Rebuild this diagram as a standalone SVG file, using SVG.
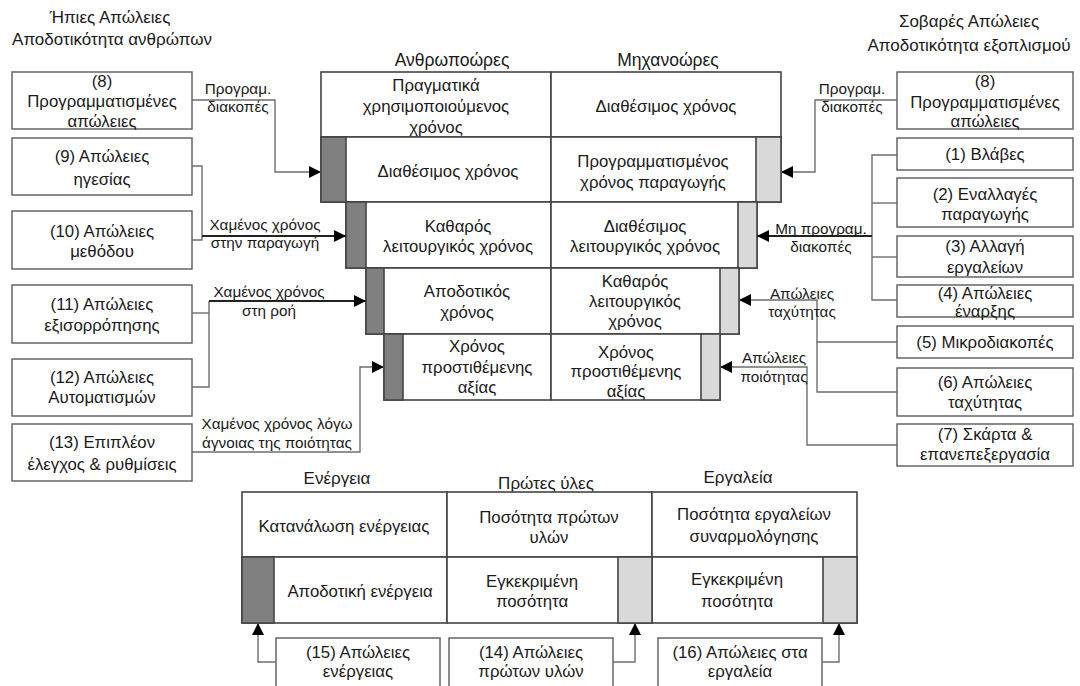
<svg xmlns="http://www.w3.org/2000/svg" width="1080" height="686" viewBox="0 0 1080 686">
<style>
text{font-family:"Liberation Sans",Arial,sans-serif;fill:#1a1a1a;text-anchor:middle}
.t{font-size:16.8px}
.h{font-size:17px}
.hh{font-size:17.5px}
.l{font-size:15.3px}
.box{fill:#fff;stroke:#666;stroke-width:1.5}
.cell{fill:#fff;stroke:#444;stroke-width:1.6}
.dk{fill:#808080;stroke:#444;stroke-width:1.6}
.lt{fill:#d9d9d9;stroke:#444;stroke-width:1.6}
.c{fill:none;stroke:#6e6e6e;stroke-width:1.4}
.cd{fill:none;stroke:#222;stroke-width:2}
</style>
<defs>
<marker id="ar" viewBox="0 0 10 10" refX="10" refY="5" markerWidth="12" markerHeight="12" markerUnits="userSpaceOnUse" orient="auto">
<path d="M0,0 L10,5 L0,10 z" fill="#000"/>
</marker>
</defs>

<g id="titles">
<text class="h" x="110" y="23">Ήπιες Απώλειες</text>
<text class="h" x="112" y="45">Αποδοτικότητα ανθρώπων</text>
<text class="h" x="969" y="27">Σοβαρές Απώλειες</text>
<text class="h" x="969" y="51">Αποδοτικότητα εξοπλισμού</text>
<text class="hh" x="452" y="66">Ανθρωποώρες</text>
<text class="hh" x="668" y="66">Μηχανοώρες</text>
<text class="h" x="337" y="484">Ενέργεια</text>
<text class="h" x="546" y="489">Πρώτες ύλες</text>
<text class="h" x="738" y="483">Εργαλεία</text>
</g>

<g id="main-table">
<rect class="cell" x="321" y="72" width="230" height="65"/>
<rect class="cell" x="551" y="72" width="230" height="65"/>
<rect class="cell" x="321" y="137" width="230" height="65"/>
<rect class="cell" x="551" y="137" width="230" height="65"/>
<rect class="dk" x="321" y="137" width="25" height="65"/>
<rect class="lt" x="756" y="137" width="25" height="65"/>
<rect class="cell" x="346" y="202" width="205" height="66"/>
<rect class="cell" x="551" y="202" width="206" height="66"/>
<rect class="dk" x="346" y="202" width="20" height="66"/>
<rect class="lt" x="738" y="202" width="19" height="66"/>
<rect class="cell" x="366" y="268" width="185" height="66"/>
<rect class="cell" x="551" y="268" width="188" height="66"/>
<rect class="dk" x="366" y="268" width="18" height="66"/>
<rect class="lt" x="720" y="268" width="19" height="66"/>
<rect class="cell" x="384" y="334" width="167" height="66"/>
<rect class="cell" x="551" y="334" width="169" height="66"/>
<rect class="dk" x="384" y="334" width="19" height="66"/>
<rect class="lt" x="701" y="334" width="19" height="66"/>
<text class="t" x="436" y="91">Πραγματικά</text>
<text class="t" x="436" y="112">χρησιμοποιούμενος</text>
<text class="t" x="436" y="133">χρόνος</text>
<text class="t" x="666" y="112">Διαθέσιμος χρόνος</text>
<text class="t" x="448" y="177">Διαθέσιμος χρόνος</text>
<text class="t" x="653" y="167">Προγραμματισμένος</text>
<text class="t" x="653" y="188">χρόνος παραγωγής</text>
<text class="t" x="458" y="232">Καθαρός</text>
<text class="t" x="458" y="252">λειτουργικός χρόνος</text>
<text class="t" x="645" y="232">Διαθέσιμος</text>
<text class="t" x="645" y="252">λειτουργικός χρόνος</text>
<text class="t" x="467" y="297">Αποδοτικός</text>
<text class="t" x="467" y="318">χρόνος</text>
<text class="t" x="635" y="287">Καθαρός</text>
<text class="t" x="635" y="307">λειτουργικός</text>
<text class="t" x="635" y="327">χρόνος</text>
<text class="t" x="477" y="352">Χρόνος</text>
<text class="t" x="477" y="373">προστιθέμενης</text>
<text class="t" x="477" y="393">αξίας</text>
<text class="t" x="626" y="358">Χρόνος</text>
<text class="t" x="626" y="377">προστιθέμενης</text>
<text class="t" x="626" y="397">αξίας</text>
</g>

<g id="resource-table">
<rect class="cell" x="242" y="492" width="205" height="65"/>
<rect class="cell" x="447" y="492" width="205" height="65"/>
<rect class="cell" x="652" y="492" width="205" height="65"/>
<rect class="cell" x="242" y="557" width="205" height="66"/>
<rect class="cell" x="447" y="557" width="205" height="66"/>
<rect class="cell" x="652" y="557" width="205" height="66"/>
<rect class="dk" x="242" y="557" width="32" height="66"/>
<rect class="lt" x="618" y="557" width="34" height="66"/>
<rect class="lt" x="823" y="557" width="34" height="66"/>
<text class="t" x="344" y="532">Κατανάλωση ενέργειας</text>
<text class="t" x="549" y="523">Ποσότητα πρώτων</text>
<text class="t" x="549" y="543">υλών</text>
<text class="t" x="754" y="520">Ποσότητα εργαλείων</text>
<text class="t" x="754" y="542">συναρμολόγησης</text>
<text class="t" x="360" y="597">Αποδοτική ενέργεια</text>
<text class="t" x="532" y="587">Εγκεκριμένη</text>
<text class="t" x="532" y="607">ποσότητα</text>
<text class="t" x="737" y="585">Εγκεκριμένη</text>
<text class="t" x="737" y="607">ποσότητα</text>
</g>

<g id="n8L"><rect class="box" x="12" y="72" width="180" height="57"/>
<text class="t" x="102" y="87">(8)</text><text class="t" x="102" y="107">Προγραμματισμένες</text><text class="t" x="102" y="127">απώλειες</text></g>
<g id="n9"><rect class="box" x="12" y="138" width="180" height="57"/>
<text class="t" x="102" y="162">(9) Απώλειες</text><text class="t" x="102" y="185">ηγεσίας</text></g>
<g id="n10"><rect class="box" x="12" y="211" width="180" height="58"/>
<text class="t" x="102" y="237">(10) Απώλειες</text><text class="t" x="102" y="257">μεθόδου</text></g>
<g id="n11"><rect class="box" x="12" y="285" width="180" height="58"/>
<text class="t" x="102" y="310">(11) Απώλειες</text><text class="t" x="102" y="331">εξισορρόπησης</text></g>
<g id="n12"><rect class="box" x="12" y="359" width="180" height="57"/>
<text class="t" x="102" y="383">(12) Απώλειες</text><text class="t" x="102" y="403">Αυτοματισμών</text></g>
<g id="n13"><rect class="box" x="12" y="424" width="180" height="57"/>
<text class="t" x="102" y="448">(13) Επιπλέον</text><text class="t" x="102" y="470">έλεγχος &amp; ρυθμίσεις</text></g>

<g id="n8R"><rect class="box" x="897" y="72" width="176" height="57"/>
<text class="t" x="985" y="87">(8)</text><text class="t" x="985" y="108">Προγραμματισμένες</text><text class="t" x="985" y="127">απώλειες</text></g>
<g id="n1"><rect class="box" x="897" y="138" width="176" height="32"/>
<text class="t" x="985" y="160">(1) Βλάβες</text></g>
<g id="n2"><rect class="box" x="897" y="178" width="176" height="49"/>
<text class="t" x="985" y="200">(2) Εναλλαγές</text><text class="t" x="985" y="220">παραγωγής</text></g>
<g id="n3"><rect class="box" x="897" y="236" width="176" height="41"/>
<text class="t" x="985" y="252">(3) Αλλαγή</text><text class="t" x="985" y="273">εργαλείων</text></g>
<g id="n4"><rect class="box" x="897" y="285" width="176" height="32"/>
<text class="t" x="985" y="299">(4) Απώλειες</text><text class="t" x="985" y="317">έναρξης</text></g>
<g id="n5"><rect class="box" x="897" y="326" width="176" height="32"/>
<text class="t" x="985" y="348">(5) Μικροδιακοπές</text></g>
<g id="n6"><rect class="box" x="897" y="368" width="176" height="48"/>
<text class="t" x="985" y="388">(6) Απώλειες</text><text class="t" x="985" y="408">ταχύτητας</text></g>
<g id="n7"><rect class="box" x="897" y="424" width="176" height="42"/>
<text class="t" x="985" y="440">(7) Σκάρτα &amp;</text><text class="t" x="985" y="460">επανεπεξεργασία</text></g>

<g id="n15"><rect class="box" x="276" y="638" width="164" height="54"/>
<text class="t" x="358" y="658">(15) Απώλειες</text><text class="t" x="358" y="677">ενέργειας</text></g>
<g id="n14"><rect class="box" x="449" y="638" width="164" height="54"/>
<text class="t" x="531" y="658">(14) Απώλειες</text><text class="t" x="531" y="677">πρώτων υλών</text></g>
<g id="n16"><rect class="box" x="658" y="638" width="164" height="54"/>
<text class="t" x="740" y="658">(16) Απώλειες στα</text><text class="t" x="740" y="677">εργαλεία</text></g>

<g id="connectors">
<path class="c" d="M192,100 H275 V172 H321" marker-end="url(#ar)"/>
<path class="c" d="M192,166 H202 V236"/>
<path class="c" d="M192,240 H202 V236"/>
<path class="cd" d="M202,236 H346" marker-end="url(#ar)"/>
<path class="c" d="M192,313 H209"/>
<path class="c" d="M192,387 H209 V301"/>
<path class="cd" d="M209,301 H366" marker-end="url(#ar)"/>
<path class="c" d="M192,452 H360 V367 H384" marker-end="url(#ar)"/>
<path class="c" d="M897,100 H815 V172 H781" marker-end="url(#ar)"/>
<path class="c" d="M897,155 H872 V300 H897"/>
<path class="c" d="M897,203 H872"/>
<path class="c" d="M897,257 H872"/>
<path class="cd" d="M872,236 H757" marker-end="url(#ar)"/>
<path class="c" d="M897,342 H817 V300 H739" marker-end="url(#ar)"/>
<path class="c" d="M897,392 H817 V342"/>
<path class="c" d="M897,445 H807 V367 H720" marker-end="url(#ar)"/>
<path class="c" d="M276,662 H258 V623" marker-end="url(#ar)"/>
<path class="c" d="M613,662 H635 V623" marker-end="url(#ar)"/>
<path class="c" d="M822,662 H839 V623" marker-end="url(#ar)"/>
<text class="l" x="238" y="94">Προγραμ.</text>
<text class="l" x="238" y="112">διακοπές</text>
<text class="l" x="265" y="230">Χαμένος χρόνος</text>
<text class="l" x="265" y="248">στην παραγωγή</text>
<text class="l" x="269" y="297">Χαμένος χρόνος</text>
<text class="l" x="269" y="316">στη ροή</text>
<text class="l" x="277" y="429">Χαμένος χρόνος λόγω</text>
<text class="l" x="277" y="448">άγνοιας της ποιότητας</text>
<text class="l" x="852" y="94">Προγραμ.</text>
<text class="l" x="852" y="112">διακοπές</text>
<text class="l" x="821" y="234">Μη προγραμ.</text>
<text class="l" x="821" y="252">διακοπές</text>
<text class="l" x="802" y="299">Απώλειες</text>
<text class="l" x="802" y="317">ταχύτητας</text>
<text class="l" x="774" y="363">Απώλειες</text>
<text class="l" x="774" y="382">ποιότητας</text>
</g>
</svg>
